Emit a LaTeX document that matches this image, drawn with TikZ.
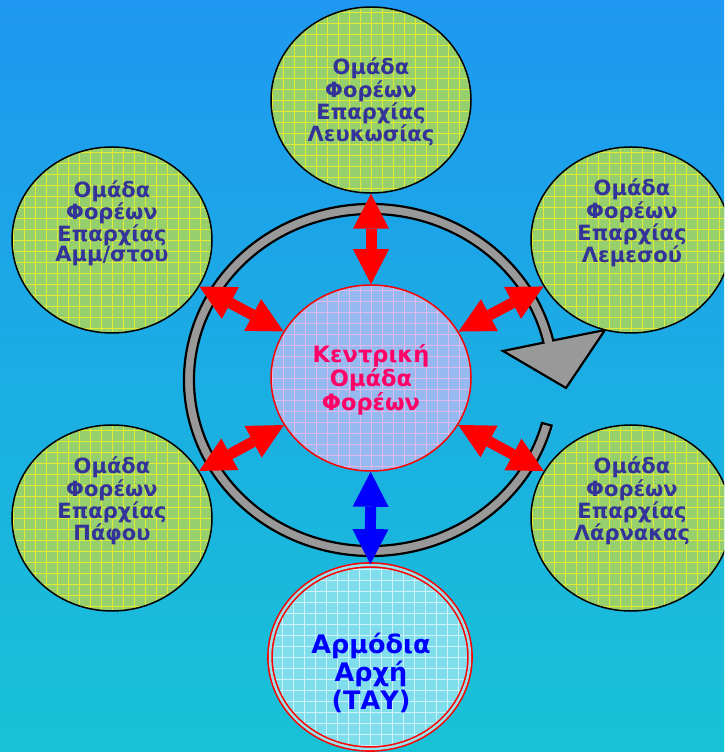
\documentclass[tikz,border=0pt]{standalone}
\usepackage{fontspec}
\setmainfont{DejaVu Sans}
\usetikzlibrary{shapes.geometric,arrows.meta,calc}

\definecolor{bgtop}{RGB}{30,152,240}
\definecolor{bgbottom}{RGB}{24,194,214}
\definecolor{groupfill}{RGB}{150,208,108}
\definecolor{groupgrid}{RGB}{226,236,50}
\definecolor{groupink}{RGB}{51,51,153}
\definecolor{centrefill}{RGB}{150,186,240}
\definecolor{centregrid}{RGB}{228,184,232}
\definecolor{centreink}{RGB}{255,0,102}
\definecolor{authfill}{RGB}{128,222,236}
\definecolor{authgrid}{RGB}{205,244,250}
\definecolor{authgap}{RGB}{150,226,236}
\definecolor{ringgray}{RGB}{153,153,153}

\tikzstyle{district} = [ellipse, minimum width=200pt, minimum height=186pt, inner sep=0pt, draw=black, line width=1.5pt, fill=groupfill,
  path picture={\draw[groupgrid, line width=0.8pt] (path picture bounding box.south west) grid[step=11pt] (path picture bounding box.north east);}]
\tikzstyle{centre} = [ellipse, minimum width=200pt, minimum height=186pt, inner sep=0pt, draw=red, line width=1.5pt, fill=centrefill,
  path picture={\draw[centregrid, line width=0.8pt] (path picture bounding box.south west) grid[step=11pt] (path picture bounding box.north east);}]
\tikzstyle{authority} = [ellipse, minimum width=200pt, minimum height=184pt, inner sep=0pt, draw=red, line width=1.6pt, double=authgap, double distance=2.5pt, fill=authfill,
  path picture={\draw[authgrid, line width=0.8pt] (path picture bounding box.south west) grid[step=11pt] (path picture bounding box.north east);}]
\tikzstyle{grouptext} = [align=center, text=groupink, font=\fontsize{21}{19.7}\selectfont\bfseries]
\tikzstyle{centretext} = [align=center, text=centreink, font=\fontsize{22.5}{24}\selectfont\bfseries]
\tikzstyle{authtext} = [align=center, text=blue, font=\fontsize{25.5}{28}\selectfont\bfseries]
\tikzstyle{link} = [line width=11pt, red, {Triangle[width=36pt,length=35pt,line width=0pt]}-{Triangle[width=36pt,length=35pt,line width=0pt]}]
\tikzstyle{bluelink} = [link, blue]
\tikzstyle{ring} = [fill=ringgray, draw=black, line width=2.2pt, line join=miter]

\begin{document}
\begin{tikzpicture}[x=1pt, y=1pt]

% Background
\useasboundingbox (0,0) rectangle (724,752);
\clip (0,0) rectangle (724,752);
\fill[top color=bgtop, bottom color=bgbottom] (0,0) rectangle (724,752);

% Ring with arrowhead
\coordinate (ringc) at (371,372);
\draw[ring] ($(ringc)+(-15:187pt and 176pt)$) arc[start angle=-15, end angle=-347, x radius=187pt, y radius=176pt]
  -- (605,422) -- (566,364) -- (503,401)
  -- ($(ringc)+(13:177pt and 166pt)$) arc[start angle=13, end angle=345, x radius=177pt, y radius=166pt] -- cycle;

% Define nodes
\node (lefkosia) [district] at (371,652) {};
\node (ammochostos) [district] at (112,512) {};
\node (lemesos) [district] at (631,512) {};
\node (pafos) [district] at (112,234) {};
\node (larnaka) [district] at (631,234) {};
\node (kentriki) [centre] at (371,374) {};
\node (tay) [authority] at (370,95) {};

% Texts
\node (lefkosia-t) [grouptext] at (371,650) {Ομάδα\\Φορέων\\Επαρχίας\\Λευκωσίας};
\node (ammochostos-t) [grouptext] at (112,529) {Ομάδα\\Φορέων\\Επαρχίας\\Αμμ/στου};
\node (lemesos-t) [grouptext] at (632,529) {Ομάδα\\Φορέων\\Επαρχίας\\Λεμεσού};
\node (pafos-t) [grouptext] at (112,251) {Ομάδα\\Φορέων\\Επαρχίας\\Πάφου};
\node (larnaka-t) [grouptext] at (632,251) {Ομάδα\\Φορέων\\Επαρχίας\\Λάρνακας};
\node (kentriki-t) [centretext] at (371,372) {Κεντρική\\Ομάδα\\Φορέων};
\node (tay-t) [authtext] at (371,79) {Αρμόδια\\Αρχή\\(ΤΑΥ)};

% Draw arrows
\draw [link] (lefkosia) -- (kentriki);
\draw [link] (ammochostos) -- (kentriki);
\draw [link] (lemesos) -- (kentriki);
\draw [link] (pafos) -- (kentriki);
\draw [link] (larnaka) -- (kentriki);
\draw [bluelink] (kentriki) -- (tay);

\end{tikzpicture}
\end{document}
